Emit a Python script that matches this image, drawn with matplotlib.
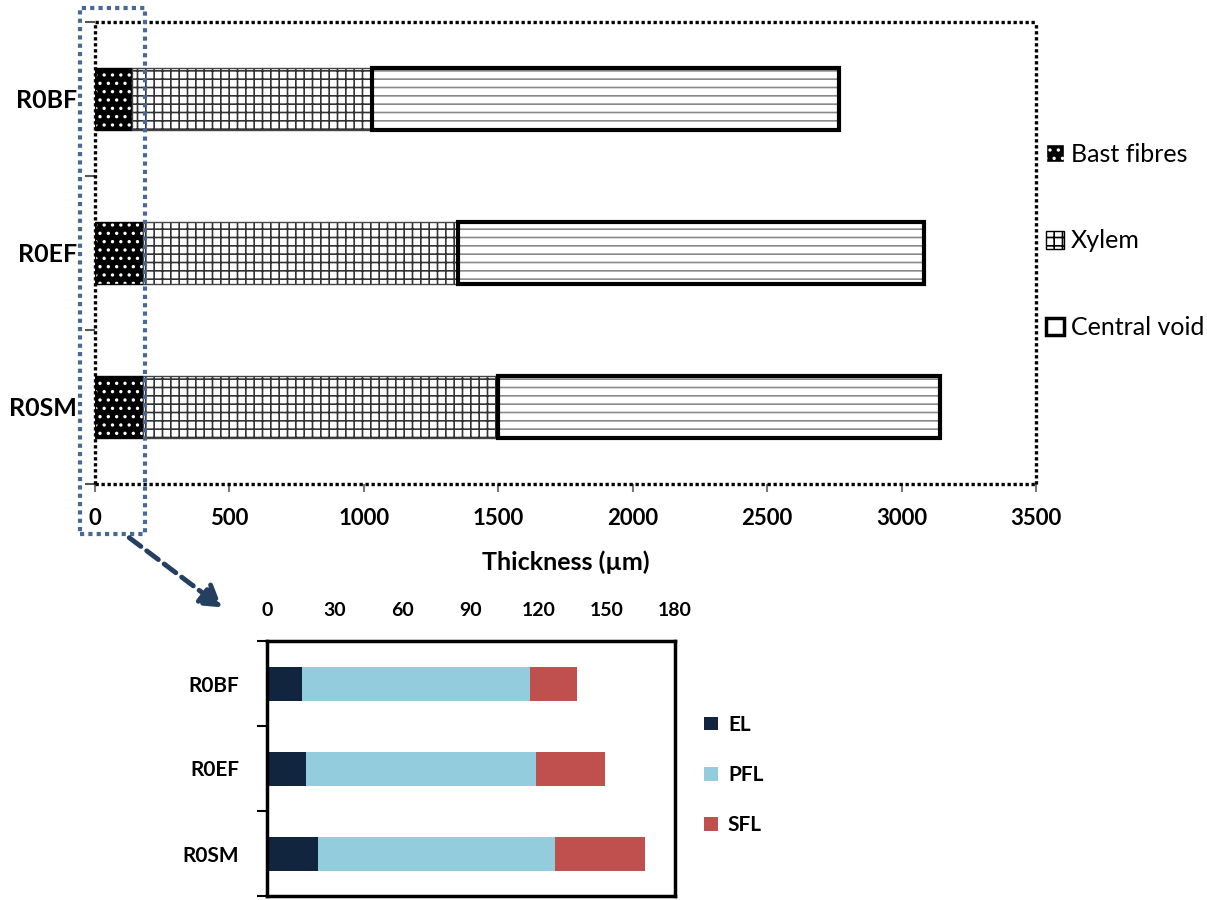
import matplotlib
matplotlib.use("Agg")
import matplotlib.pyplot as plt
from matplotlib.patches import Patch, Rectangle, FancyArrowPatch

plt.rcParams["font.family"] = ["Lato", "DejaVu Sans"]
plt.rcParams["hatch.linewidth"] = 1.2

# main chart: thickness of the stem tissues (µm)
samples = ["R0BF", "R0EF", "R0SM"]
bast_fibres = [136, 177, 177]
xylem = [893, 1174, 1322]
central_void = [1739, 1733, 1643]
main_ticks = [0, 500, 1000, 1500, 2000, 2500, 3000, 3500]

# inset: bast fibre layers (µm)
el = [15.4, 17.3, 22.5]
pfl = [100.7, 101.5, 104.4]
sfl = [20.6, 30.4, 39.7]
inset_ticks = [0, 30, 60, 90, 120, 150, 180]

W, H = 1207, 900
fig = plt.figure(figsize=(W / 100, H / 100), dpi=100)


def fx(px):
    return px / W


def fy(py):
    return 1 - py / H


# ---- main chart ----
ax = fig.add_axes([fx(95), fy(484), fx(1036) - fx(95), fy(22) - fy(484)])
y = list(range(len(samples)))
h = 0.4
left2 = bast_fibres
left3 = [a + b for a, b in zip(bast_fibres, xylem)]

ax.barh(y, bast_fibres, height=h, color="black", edgecolor="white", hatch="..", linewidth=0)
ax.barh(y, bast_fibres, height=h, fill=False, edgecolor="black", linewidth=1)
ax.barh(y, xylem, left=left2, height=h, color="white", edgecolor="#333333", hatch="++", linewidth=0)
ax.barh(y, xylem, left=left2, height=h, fill=False, edgecolor="#444444", linewidth=1)
ax.barh(y, central_void, left=left3, height=h, color="white", edgecolor="#8a8a8a", hatch="--", linewidth=0)
ax.barh(y, central_void, left=left3, height=h, fill=False, edgecolor="black", linewidth=3)

ax.set_xlim(0, 3500)
ax.set_ylim(2.5, -0.5)
ax.set_xticks(main_ticks)
ax.set_xticklabels([str(t) for t in main_ticks], fontsize=16, fontweight="bold")
ax.set_yticks(y)
ax.set_yticklabels(samples, fontsize=18, fontweight="bold")
ax.tick_params(axis="y", length=0, pad=13)
ax.set_yticks([-0.5, 0.5, 1.5, 2.5], minor=True)
ax.tick_params(axis="y", which="minor", length=7, width=1.5, color="#555555")
ax.tick_params(axis="x", length=6, width=1.5, color="#777777", pad=11)
ax.set_xlabel("Thickness (µm)", fontsize=18, fontweight="bold", labelpad=16)
for s in ax.spines.values():
    s.set_linestyle((0, (1, 0.8)))
    s.set_linewidth(2.4)
    s.set_capstyle("butt")
    s.set_color("black")

handles = [
    Patch(facecolor="black", edgecolor="white", hatch="..", label="Bast fibres"),
    Patch(facecolor="white", edgecolor="black", hatch="++", label="Xylem"),
    Patch(facecolor="white", edgecolor="black", linewidth=2.5, label="Central void"),
]
fig.legend(handles=handles, loc="center left", bbox_to_anchor=(fx(1046), fy(241)),
           frameon=False, fontsize=18, handlelength=0.7, handleheight=0.7,
           handletextpad=0.3, labelspacing=2.55, borderaxespad=0, borderpad=0)

# ---- inset chart ----
ax2 = fig.add_axes([fx(267), fy(896), fx(675) - fx(267), fy(641) - fy(896)])
l2 = el
l3 = [a + b for a, b in zip(el, pfl)]
ax2.barh(y, el, height=h, color="#12253F", label="EL")
ax2.barh(y, pfl, left=l2, height=h, color="#93CDDD", label="PFL")
ax2.barh(y, sfl, left=l3, height=h, color="#C0504D", label="SFL")
ax2.set_xlim(0, 180)
ax2.set_ylim(2.5, -0.5)
ax2.xaxis.tick_top()
ax2.set_xticks(inset_ticks)
ax2.set_xticklabels([str(t) for t in inset_ticks], fontsize=14, fontweight="bold")
ax2.tick_params(axis="x", length=0, pad=16)
ax2.set_yticks(y)
ax2.set_yticklabels(samples, fontsize=15, fontweight="bold")
ax2.tick_params(axis="y", length=0, pad=20)
ax2.set_yticks([-0.5, 0.5, 1.5, 2.5], minor=True)
ax2.tick_params(axis="y", which="minor", length=7, width=1.5, color="black")
for s in ax2.spines.values():
    s.set_linewidth(2.5)
    s.set_color("black")

fig.legend(*ax2.get_legend_handles_labels(), loc="center left",
           bbox_to_anchor=(fx(704), fy(775)), frameon=False,
           prop={"size": 15, "weight": "bold"}, handlelength=0.65, handleheight=0.65,
           handletextpad=0.5, labelspacing=1.45, borderaxespad=0, borderpad=0)

# ---- zoom marker and arrow ----
fig.add_artist(Rectangle((fx(80), fy(534)), fx(145) - fx(80), fy(8) - fy(534),
                         transform=fig.transFigure, fill=False,
                         edgecolor="#4A6894", linewidth=3, linestyle=(0, (1, 1))))
fig.add_artist(FancyArrowPatch((fx(127), fy(536)), (fx(224), fy(609)),
                               transform=fig.transFigure, arrowstyle="-|>,head_length=8,head_width=5",
                               color="#243F60", linewidth=3.5, linestyle=(0, (3, 1.5)),
                               mutation_scale=1.6))

fig.savefig("out.png", dpi=100)
